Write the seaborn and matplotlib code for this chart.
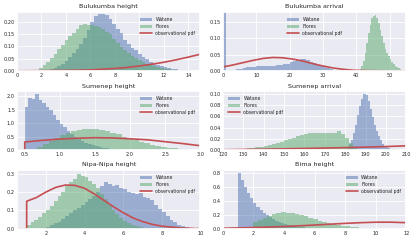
import matplotlib
matplotlib.use("Agg")
import matplotlib.pyplot as plt
import numpy as np
import pandas as pd
import seaborn as sns

# ---- data ----
TITLES = ["Bulukumba height", "Bulukumba arrival", "Sumenep height",
          "Sumenep arrival", "Nipa-Nipa height", "Bima height"]

# histogram bins: (first edge, bin width) and density heights
BUL_H_WAT_BIN = (2.4, 0.3)
BUL_H_WAT = [0.003, 0.006, 0.012, 0.02, 0.03, 0.042, 0.056, 0.072, 0.09, 0.11,
             0.135, 0.165, 0.20, 0.225, 0.232, 0.23, 0.228, 0.21, 0.19, 0.172,
             0.155, 0.127, 0.11, 0.095, 0.083, 0.07, 0.058, 0.047, 0.038, 0.031,
             0.025, 0.019, 0.015, 0.011, 0.008, 0.006, 0.004, 0.003, 0.002, 0.001]
BUL_H_FLO_BIN = (1.8, 0.3)
BUL_H_FLO = [0.012, 0.025, 0.038, 0.052, 0.07, 0.088, 0.105, 0.125, 0.14, 0.155,
             0.17, 0.185, 0.19, 0.188, 0.185, 0.182, 0.178, 0.17, 0.16, 0.148,
             0.13, 0.113, 0.097, 0.083, 0.072, 0.062, 0.052, 0.043, 0.036, 0.03,
             0.024, 0.019, 0.015, 0.012, 0.009, 0.006, 0.004, 0.002]
BUL_H_PDF_X = [0, 2, 4, 6, 7, 8, 9, 10, 11, 12, 13, 14, 15]
BUL_H_PDF_Y = [0.0005, 0.001, 0.002, 0.004, 0.007, 0.01, 0.014, 0.02, 0.027,
               0.035, 0.045, 0.056, 0.068]

BUL_A_WAT_BIN = (0, 1)
BUL_A_WAT = [0.19, 0.003, 0.003, 0.004, 0.005, 0.007, 0.009, 0.011, 0.012, 0.013,
             0.014, 0.014, 0.015, 0.015, 0.016, 0.016, 0.017, 0.018, 0.02, 0.022,
             0.026, 0.03, 0.033, 0.035, 0.035, 0.032, 0.028, 0.024, 0.019, 0.015,
             0.011, 0.008, 0.006, 0.004, 0.003, 0.002, 0.001, 0.001]
BUL_A_FLO_BIN = (40.5, 0.5)
BUL_A_FLO = [0.002, 0.006, 0.015, 0.03, 0.055, 0.085, 0.115, 0.14, 0.16, 0.168,
             0.17, 0.162, 0.145, 0.125, 0.105, 0.085, 0.068, 0.055, 0.045, 0.036,
             0.028, 0.021, 0.016, 0.012, 0.008, 0.006, 0.004, 0.003, 0.002]
BUL_A_PDF_X = [0, 3, 6, 9, 12, 15, 18, 21, 24, 27, 30, 33, 36, 39, 42, 45, 50, 55]
BUL_A_PDF_Y = [0.012, 0.018, 0.025, 0.032, 0.038, 0.041, 0.040, 0.036, 0.03,
               0.022, 0.015, 0.009, 0.005, 0.002, 0.001, 0.0005, 0.0002, 0.0001]

SUM_H_WAT_BIN = (0.5, 0.05)
SUM_H_WAT = [1.6, 1.95, 1.9, 2.07, 1.85, 1.75, 1.6, 1.5, 1.3, 1.12, 0.97, 0.85,
             0.72, 0.6, 0.5, 0.42, 0.35, 0.28, 0.22, 0.18, 0.14, 0.11, 0.09,
             0.07, 0.05, 0.04, 0.03, 0.02, 0.015, 0.01, 0.005]
SUM_H_FLO_BIN = (0.6, 0.08)
SUM_H_FLO = [0.05, 0.12, 0.22, 0.33, 0.45, 0.55, 0.63, 0.7, 0.74, 0.78, 0.8,
             0.78, 0.75, 0.7, 0.65, 0.58, 0.5, 0.43, 0.37, 0.3, 0.25, 0.2, 0.16,
             0.12, 0.09, 0.065, 0.045, 0.03, 0.02, 0.012]
SUM_H_PDF_X = [0.39, 0.5, 0.5, 0.75, 1.0, 1.25, 1.5, 1.75, 2.0, 2.25, 2.5, 2.75, 3.0]
SUM_H_PDF_Y = [0, 0, 0.3, 0.36, 0.41, 0.44, 0.46, 0.45, 0.42, 0.38, 0.31, 0.24, 0.16]

SUM_A_WAT_BIN = (180, 1)
SUM_A_WAT = [0.002, 0.005, 0.01, 0.018, 0.03, 0.045, 0.062, 0.078, 0.09, 0.1,
             0.097, 0.087, 0.073, 0.058, 0.045, 0.034, 0.025, 0.017, 0.011,
             0.007, 0.005, 0.003, 0.002, 0.002, 0.001, 0.001]
SUM_A_FLO_BIN = (126, 2)
SUM_A_FLO = [0.0005, 0.001, 0.002, 0.003, 0.004, 0.005, 0.006, 0.007, 0.009,
             0.011, 0.013, 0.015, 0.017, 0.019, 0.022, 0.025, 0.027, 0.029, 0.03,
             0.031, 0.031, 0.031, 0.031, 0.03, 0.031, 0.033, 0.029, 0.022, 0.012,
             0.004, 0.001]
SUM_A_PDF_X = [120, 140, 160, 180, 200, 210]
SUM_A_PDF_Y = [0.0005, 0.0015, 0.0028, 0.0043, 0.0062, 0.0075]

NIP_H_WAT_BIN = (2.0, 0.2)
NIP_H_WAT = [0.01, 0.02, 0.03, 0.04, 0.055, 0.07, 0.085, 0.1, 0.115, 0.13,
             0.145, 0.16, 0.18, 0.2, 0.23, 0.255, 0.245, 0.235, 0.24, 0.22,
             0.215, 0.2, 0.195, 0.19, 0.195, 0.175, 0.165, 0.155, 0.13, 0.11,
             0.09, 0.07, 0.05, 0.035, 0.022, 0.014, 0.008, 0.004]
NIP_H_FLO_BIN = (1.0, 0.2)
NIP_H_FLO = [0.02, 0.035, 0.05, 0.065, 0.085, 0.1, 0.125, 0.15, 0.18, 0.2,
             0.23, 0.255, 0.27, 0.3, 0.285, 0.28, 0.26, 0.245, 0.22, 0.19,
             0.16, 0.13, 0.105, 0.08, 0.06, 0.045, 0.033, 0.023, 0.015, 0.01,
             0.006, 0.003]
NIP_H_PDF_X = [0.5, 1.0, 1.0, 1.5, 2.0, 2.5, 3.0, 3.5, 4.0, 4.5, 5.0, 5.5, 6.0,
               6.5, 7.0, 7.5, 8.0, 9.0, 10.0]
NIP_H_PDF_Y = [0, 0, 0.15, 0.17, 0.2, 0.225, 0.238, 0.236, 0.22, 0.19, 0.155,
               0.12, 0.088, 0.06, 0.04, 0.025, 0.015, 0.005, 0.001]

BIM_H_WAT_BIN = (1.0, 0.2)
BIM_H_WAT = [0.81, 0.7, 0.6, 0.52, 0.44, 0.37, 0.32, 0.27, 0.23, 0.2, 0.17,
             0.14, 0.12, 0.1, 0.085, 0.07, 0.06, 0.05, 0.042, 0.035, 0.029,
             0.024, 0.02, 0.016, 0.013, 0.01, 0.008, 0.006, 0.005, 0.004]
BIM_H_FLO_BIN = (2.0, 0.3)
BIM_H_FLO = [0.105, 0.13, 0.16, 0.19, 0.215, 0.235, 0.24, 0.235, 0.225, 0.21,
             0.195, 0.18, 0.16, 0.14, 0.12, 0.1, 0.085, 0.07, 0.058, 0.047,
             0.038, 0.03, 0.023, 0.018, 0.013, 0.01, 0.007, 0.005, 0.003, 0.002]
BIM_H_PDF_X = [0, 1, 2, 3, 4, 5, 6, 7, 8, 9, 10, 11, 12]
BIM_H_PDF_Y = [0.01, 0.015, 0.02, 0.027, 0.035, 0.045, 0.056, 0.068, 0.08,
               0.09, 0.097, 0.097, 0.09]

PANELS = [
    (BUL_H_WAT_BIN, BUL_H_WAT, BUL_H_FLO_BIN, BUL_H_FLO, BUL_H_PDF_X, BUL_H_PDF_Y),
    (BUL_A_WAT_BIN, BUL_A_WAT, BUL_A_FLO_BIN, BUL_A_FLO, BUL_A_PDF_X, BUL_A_PDF_Y),
    (SUM_H_WAT_BIN, SUM_H_WAT, SUM_H_FLO_BIN, SUM_H_FLO, SUM_H_PDF_X, SUM_H_PDF_Y),
    (SUM_A_WAT_BIN, SUM_A_WAT, SUM_A_FLO_BIN, SUM_A_FLO, SUM_A_PDF_X, SUM_A_PDF_Y),
    (NIP_H_WAT_BIN, NIP_H_WAT, NIP_H_FLO_BIN, NIP_H_FLO, NIP_H_PDF_X, NIP_H_PDF_Y),
    (BIM_H_WAT_BIN, BIM_H_WAT, BIM_H_FLO_BIN, BIM_H_FLO, BIM_H_PDF_X, BIM_H_PDF_Y),
]

# ---- styling / layout ----
XLIMS = [(0, 15), (0, 55), (0.39, 3.0), (120, 210), (0.5, 10), (0, 12)]
YLIMS = [(0, 0.24), (0, 0.18), (0, 2.2), (0, 0.105), (0, 0.32), (0, 0.85)]
XTICKS = [np.arange(0, 15, 2), np.arange(0, 51, 10), np.arange(0.5, 3.01, 0.5),
          np.arange(120, 211, 10), np.arange(2, 11, 2), np.arange(0, 13, 2)]
YTICKS = [np.arange(0, 0.21, 0.05), np.arange(0, 0.16, 0.05), np.arange(0, 2.1, 0.5),
          np.arange(0, 0.11, 0.02), np.arange(0, 0.31, 0.1), np.arange(0, 0.81, 0.2)]
YFMT = ["%.2f", "%.2f", "%.1f", "%.2f", "%.1f", "%.1f"]
XFMT = ["%d", "%d", "%.1f", "%d", "%d", "%d"]
LEGEND_LOC = ["upper right", "upper center", "upper right", "upper left",
              "upper right", "upper right"]

BLUE, GREEN, RED = "#4C72B0", "#55A868", "#C44E52"


def draw_hist(ax, binspec, heights, color, label):
    start, width = binspec
    edges = start + width * np.arange(len(heights) + 1)
    hist_df = pd.DataFrame({"x": (edges[:-1] + edges[1:]) / 2, "w": heights})
    sns.histplot(data=hist_df, x="x", weights="w", bins=edges.tolist(), color=color,
                 alpha=0.5, linewidth=0, ax=ax, label=label)


def main() -> None:
    sns.set_theme(style="darkgrid", rc={"grid.linewidth": 0.6})
    plt.rcParams["font.family"] = ["DejaVu Sans"]
    fig = plt.figure(figsize=(4.15, 2.42), dpi=100)

    lefts = [0.041, 0.537]
    bottoms = [0.707, 0.380, 0.054]
    for i, (wb, wh, fb, fh, px, py) in enumerate(PANELS):
        ax = fig.add_axes([lefts[i % 2], bottoms[i // 2], 0.442, 0.244])
        draw_hist(ax, wb, wh, BLUE, "Watane")
        draw_hist(ax, fb, fh, GREEN, "Flores")
        sns.lineplot(x=px, y=py, color=RED, linewidth=1.2, sort=False,
                     estimator=None, ax=ax, label="observational pdf")
        ax.set_xlim(*XLIMS[i])
        ax.set_ylim(*YLIMS[i])
        ax.set_xticks(XTICKS[i])
        ax.set_yticks(YTICKS[i])
        ax.set_xticklabels([XFMT[i] % v for v in XTICKS[i]])
        ax.set_yticklabels([YFMT[i] % v for v in YTICKS[i]])
        ax.tick_params(labelsize=3.6, pad=1.5, length=0)
        ax.set_title(TITLES[i], fontsize=4.6, pad=2.5)
        ax.set_ylabel("")
        ax.set_xlabel("")

        handles, labels = ax.get_legend_handles_labels()
        order = [labels.index(name) for name in ["Watane", "Flores", "observational pdf"]]
        ax.legend([handles[k] for k in order], [labels[k] for k in order],
                  loc=LEGEND_LOC[i], fontsize=3.3, frameon=False,
                  handlelength=2.6, borderaxespad=0.7, labelspacing=0.4)

    fig.savefig("out.png", dpi=100)
    plt.close(fig)


if __name__ == "__main__":
    main()
